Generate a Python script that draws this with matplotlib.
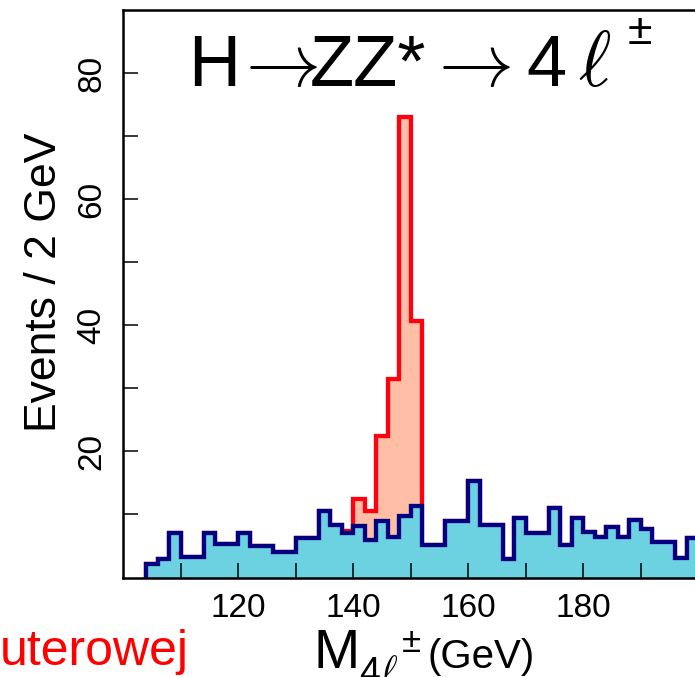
import numpy as np
import matplotlib
matplotlib.use("Agg")
import matplotlib.pyplot as plt

# ---------------- data ----------------
bin_width = 2
bin_start = 104
background = [2.2, 2.9, 7.0, 3.3, 3.3, 7.0, 5.3, 5.3, 7.0, 5.0,
              5.0, 4.1, 4.1, 6.3, 6.3, 10.5, 8.4, 7.0, 8.2, 6.0,
              8.9, 6.4, 9.7, 11.4, 5.2, 5.2, 9.0, 9.0, 15.3, 8.3,
              8.3, 2.9, 9.4, 7.0, 7.0, 11.0, 5.2, 9.4, 7.2, 6.4,
              8.0, 6.4, 9.1, 7.7, 5.6, 5.6, 3.1, 6.3]
# Higgs signal on top of background (bins 138-152 GeV)
signal = ([0.0] * 17 + [0.3, 4.2, 4.5, 13.5, 25.1, 63.4, 29.3] + [0.0] * 24)

xticks = [110, 120, 130, 140, 150, 160, 170, 180, 190]
xtick_labels = ["", "120", "", "140", "", "160", "", "180", ""]
yticks = [10, 20, 30, 40, 50, 60, 70, 80]
ytick_labels = ["", "20", "", "40", "", "60", "", "80"]

# ---------------- figure ----------------
plt.rcParams["font.family"] = ["Liberation Sans", "DejaVu Sans"]

W, H = 695, 677
fig = plt.figure(figsize=(W / 100, H / 100), dpi=100)

def fx(px):
    return px / W

def fy(py):
    return (H - py) / H

ax = fig.add_axes([fx(123), fy(577.5), (698.5 - 123) / W, (577.5 - 10) / H])

edges = bin_start + bin_width * np.arange(len(background) + 1)
bg = np.array(background)
total = bg + np.array(signal)

lw = 3.1
ax.stairs(total, edges, baseline=0, fill=True, color="#FFBEA5", zorder=1)
ax.stairs(total, edges, baseline=0, fill=False, color="#FF0010", lw=lw, zorder=1.1)
ax.stairs(bg, edges, baseline=0, fill=True, color="#6CD1E1", zorder=1.2)
ax.stairs(bg, edges, baseline=0, fill=False, color="#000080", lw=lw, zorder=1.3)

ax.set_xlim(100, 200)
ax.set_ylim(0, 90)

ax.set_xticks(xticks)
ax.set_xticklabels(xtick_labels)
ax.set_yticks(yticks)
ax.set_yticklabels(ytick_labels, rotation=90, va="center")

ax.tick_params(axis="both", direction="in", length=11, width=1.1,
               labelsize=24, color="black")
ax.tick_params(axis="x", pad=11)
ax.tick_params(axis="y", pad=11)
for s in ax.spines.values():
    s.set_linewidth(1.8)
ax.spines["right"].set_visible(False)

# title in plot: H -> ZZ* -> 4 l+-
title_kw = dict(fontsize=52, va="baseline", ha="left")
fig.text(fx(188), fy(86), "H", **title_kw)
fig.text(fx(232), fy(86), r"$\rightarrow$", fontsize=54, va="baseline",
         ha="left", math_fontfamily="cm")
fig.text(fx(310), fy(86), "ZZ*", **title_kw)
fig.text(fx(425), fy(86), r"$\rightarrow$", fontsize=54, va="baseline",
         ha="left", math_fontfamily="cm")
fig.text(fx(526), fy(86), "4", **title_kw)
fig.text(fx(578), fy(86), r"$\ell$", fontsize=56, va="baseline", ha="left",
         math_fontfamily="cm")
fig.text(fx(628), fy(44), "\u00b1", fontsize=32, va="baseline", ha="left")

# y label
fig.text(fx(45), fy(282), "Events / 2 GeV", rotation=90, fontsize=32,
         ha="center", va="center")

# x label
fig.text(fx(314), fy(668), "M", fontsize=40, ha="left", va="baseline")
fig.text(fx(359), fy(684), "4", fontsize=27, ha="left", va="baseline")
fig.text(fx(380), fy(684), r"$\ell$", fontsize=29, ha="left", va="baseline",
         math_fontfamily="cm")
fig.text(fx(402), fy(652), "\u00b1", fontsize=25, ha="left", va="baseline")
fig.text(fx(428), fy(668), "(GeV)", fontsize=29, ha="left", va="baseline")

# red caption fragment
fig.text(fx(0), fy(665), "uterowej", fontsize=36, color="#FF0000",
         ha="left", va="baseline")

fig.savefig("out.png", dpi=100)
